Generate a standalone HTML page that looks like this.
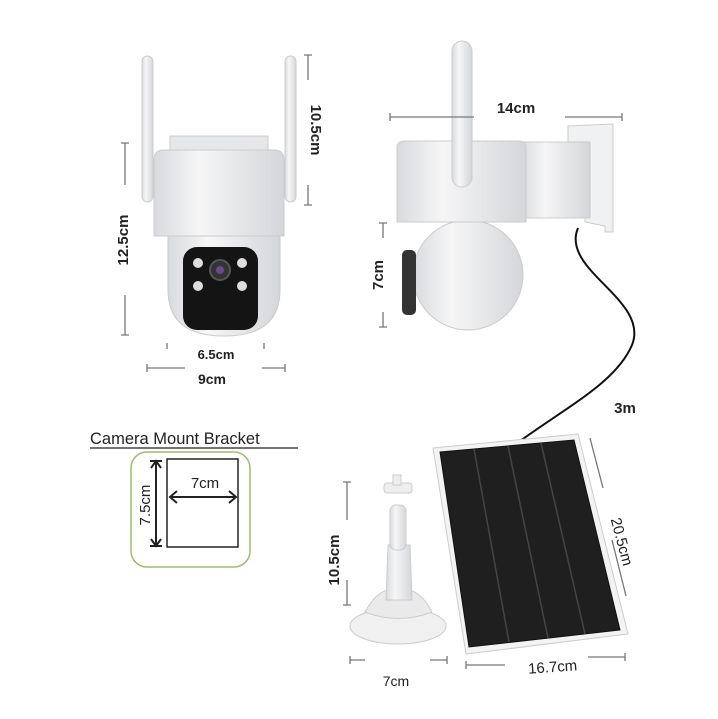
<!DOCTYPE html>
<html><head><style>
body{margin:0;background:#fff;}
svg{display:block;}
text{font-family:"Liberation Sans",sans-serif;fill:#222;}
</style></head><body>
<svg width="718" height="719" viewBox="0 0 718 719" xmlns="http://www.w3.org/2000/svg">
<defs>
<linearGradient id="wg" x1="0" x2="1"><stop offset="0" stop-color="#d8dadd"/><stop offset="0.35" stop-color="#f6f6f7"/><stop offset="1" stop-color="#d4d6d9"/></linearGradient>
</defs>
<!-- left camera -->
<rect x="142" y="56" width="11" height="146" rx="5.5" fill="url(#wg)" stroke="#ccc"/>
<rect x="285" y="56" width="11" height="146" rx="5.5" fill="url(#wg)" stroke="#ccc"/>
<rect x="170" y="136" width="98" height="16" fill="#e6e7e9" stroke="#ccc"/>
<path d="M154 160 Q154 150 164 150 L274 150 Q284 150 284 160 L284 236 L154 236 Z" fill="url(#wg)" stroke="#ccc"/>
<path d="M168 236 L280 236 L280 290 Q280 336 224 336 Q168 336 168 290 Z" fill="url(#wg)" stroke="#ccc"/>
<rect x="183" y="247" width="75" height="83" rx="14" fill="#141414"/>
<circle cx="220" cy="270" r="10" fill="#333" stroke="#555" stroke-width="2"/>
<circle cx="220" cy="270" r="4" fill="#6a4a8a"/>
<circle cx="198" cy="263" r="5" fill="#ddd"/><circle cx="242" cy="263" r="5" fill="#ddd"/>
<circle cx="198" cy="286" r="5" fill="#ddd"/><circle cx="242" cy="286" r="5" fill="#ddd"/>
<g stroke="#777" stroke-width="1.3" fill="none">
<path d="M125 143 V185 M121 143 H129 M125 295 V335 M121 335 H129"/>
<path d="M308 55 V80 M304 55 H312 M308 185 V205 M304 205 H312"/>
<path d="M167 343 V349 M264 343 V349 M147 368 H185 M147 364 V372 M262 368 H285 M285 364 V372"/>
</g>
<text x="128" y="240" font-size="15" font-weight="bold" transform="rotate(-90 128 240)" text-anchor="middle">12.5cm</text>
<text x="311" y="130" font-size="15" font-weight="bold" transform="rotate(90 311 130)" text-anchor="middle">10.5cm</text>
<text x="216" y="359" font-size="13" font-weight="bold" text-anchor="middle">6.5cm</text>
<text x="212" y="384" font-size="14" font-weight="bold" text-anchor="middle">9cm</text>
<!-- right camera -->
<path d="M578 228 C560 270 650 300 632 345 C615 385 560 410 505 452" fill="none" stroke="#111" stroke-width="2"/>
<path d="M568 126 L613 124 L613 232 L605 232 L605 226 L585 222 L585 214 L568 214 Z" fill="#f0f1f2" stroke="#ccc"/>
<path d="M520 142 L590 142 L590 218 L520 218 Z" fill="url(#wg)" stroke="#ccc"/>
<circle cx="468" cy="275" r="55" fill="url(#wg)" stroke="#ccc"/>
<rect x="402" y="250" width="14" height="65" rx="5" fill="#333"/>
<path d="M397 148 Q397 141 405 141 L518 141 Q526 141 526 148 L526 222 L397 222 Z" fill="url(#wg)" stroke="#ccc"/>
<rect x="452" y="41" width="20" height="146" rx="10" fill="url(#wg)" stroke="#ccc"/>
<g stroke="#777" stroke-width="1.3" fill="none">
<path d="M390 117 H474 M390 113 V121 M565 117 H622 M622 113 V121"/>
<path d="M383 223 V238 M379 223 H387 M383 312 V327 M379 327 H387"/>
</g>
<text x="516" y="113" font-size="15" font-weight="bold" text-anchor="middle">14cm</text>
<text x="383" y="275" font-size="15" font-weight="bold" transform="rotate(-90 383 275)" text-anchor="middle">7cm</text>
<text x="625" y="413" font-size="15" font-weight="bold" text-anchor="middle">3m</text>
<!-- bracket -->
<text x="90" y="444" font-size="16.5">Camera Mount Bracket</text>
<line x1="90" y1="448" x2="298" y2="448" stroke="#222" stroke-width="1.2"/>
<rect x="131" y="452" width="119" height="115" rx="16" fill="none" stroke="#9bbf6a" stroke-width="1.5"/>
<rect x="167" y="459" width="71" height="88" fill="none" stroke="#222" stroke-width="1.5"/>
<g stroke="#222" stroke-width="2" fill="none">
<path d="M156 461 V546 M150 461 H162 M150 546 H162 M151 468 L156 461 L161 468 M151 539 L156 546 L161 539"/>
<path d="M170 497 H236 M177 491 L170 497 L177 503 M229 491 L236 497 L229 503"/>
</g>
<text x="150" y="505" font-size="15" transform="rotate(-90 150 505)" text-anchor="middle">7.5cm</text>
<text x="205" y="488" font-size="15" text-anchor="middle">7cm</text>
<!-- mount -->
<ellipse cx="398" cy="626" rx="48" ry="18" fill="#f0f0f1" stroke="#ccc"/>
<path d="M365 612 Q380 585 398 590 Q418 585 432 612 Q398 625 365 612 Z" fill="#eaeaeb" stroke="#ccc"/>
<path d="M388 545 L386 600 L412 600 L410 545 Z" fill="url(#wg)" stroke="#ccc"/>
<rect x="390" y="505" width="16" height="45" rx="6" fill="url(#wg)" stroke="#ccc"/>
<rect x="384" y="483" width="28" height="10" rx="3" fill="#eee" stroke="#ccc"/>
<rect x="393" y="475" width="8" height="10" fill="#eee" stroke="#ccc"/>
<g stroke="#777" stroke-width="1.3" fill="none">
<path d="M347 482 V520 M343 482 H351 M347 580 V605 M343 605 H351"/>
<path d="M350 660 H365 M350 656 V664 M430 660 H447 M447 656 V664"/>
<path d="M466 665 H505 M466 661 V669 M588 657 H625 M625 653 V661"/>
<path d="M590 438 L603 488 M612 540 L626 596"/>
</g>
<text x="339" y="560" font-size="15" font-weight="bold" transform="rotate(-90 339 560)" text-anchor="middle">10.5cm</text>
<text x="396" y="686" font-size="14" text-anchor="middle">7cm</text>
<text x="553" y="672" font-size="15" text-anchor="middle" transform="rotate(-4 553 672)">16.7cm</text>
<text x="617" y="543" font-size="15" transform="rotate(75 617 543)" text-anchor="middle">20.5cm</text>
<!-- solar panel -->
<path d="M433 448 L578 434 L628 634 L466 654 Z" fill="#f3f3f3" stroke="#ccc"/>
<path d="M440 452 L574 440 L620 630 L469 647 Z" fill="#1f1f1f" stroke="#111"/>
<g stroke="#444" stroke-width="1.5">
<line x1="474" y1="449" x2="509" y2="642"/>
<line x1="508" y1="446" x2="548" y2="638"/>
<line x1="541" y1="443" x2="585" y2="634"/>
</g>
</svg>
</body></html>
